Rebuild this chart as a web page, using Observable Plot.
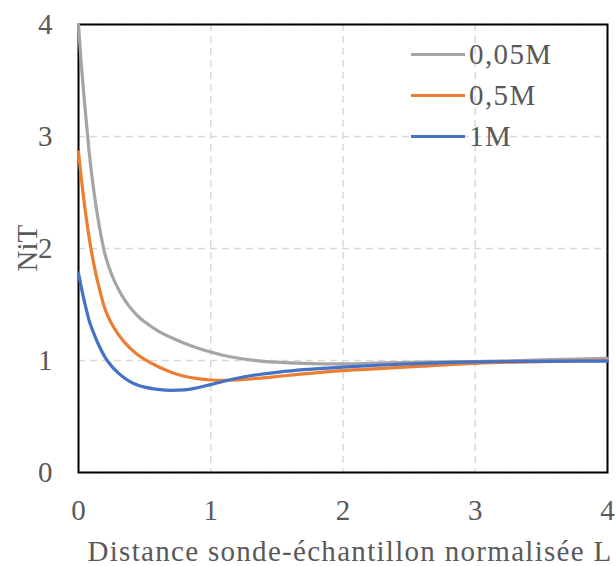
<!DOCTYPE html>
<html>
<head>
<meta charset="utf-8">
<script src="https://cdn.jsdelivr.net/npm/d3@7"></script>
<script src="https://cdn.jsdelivr.net/npm/@observablehq/plot@0.6"></script>
<style>
  body { margin: 0; background: #fff; }
  #wrap { position: relative; width: 616px; height: 566px; }
  .legend { position: absolute; left: 411px; top: 34px; font-family: "Liberation Serif", "Times New Roman", serif; font-size: 29px; color: #595959; letter-spacing: 1.4px; }
  .legend .row { height: 41px; display: flex; align-items: center; }
  .legend .sw { display: inline-block; width: 54px; height: 3.5px; margin-right: 4px; }
</style>
</head>
<body>
<div id="wrap"></div>
<script>
// ---- data ----
const seriesNames = ["0,05M", "0,5M", "1M"];
const seriesColors = ["#A5A5A5", "#ED7D31", "#4472C4"];
const xValues = [0, 0.02, 0.04, 0.06, 0.08, 0.1, 0.13, 0.16, 0.2, 0.25, 0.3, 0.35, 0.4, 0.45, 0.5, 0.6, 0.7, 0.8, 0.9, 1.0, 1.1, 1.2, 1.3, 1.4, 1.5, 1.7, 2.0, 2.3, 2.6, 3.0, 3.5, 4.0];
const y005 = [4.0, 3.66, 3.38, 3.12, 2.87, 2.66, 2.4, 2.18, 1.95, 1.77, 1.64, 1.54, 1.46, 1.395, 1.345, 1.265, 1.205, 1.155, 1.112, 1.076, 1.045, 1.022, 1.005, 0.993, 0.985, 0.975, 0.97, 0.978, 0.985, 0.99, 1.005, 1.02];
const y05 = [2.86, 2.64, 2.44, 2.26, 2.1, 1.96, 1.78, 1.63, 1.46, 1.33, 1.235, 1.16, 1.1, 1.05, 1.01, 0.947, 0.896, 0.86, 0.838, 0.826, 0.822, 0.826, 0.835, 0.845, 0.857, 0.88, 0.91, 0.93, 0.95, 0.975, 0.99, 1.0];
const y1 = [1.78, 1.66, 1.55, 1.45, 1.36, 1.29, 1.2, 1.12, 1.03, 0.95, 0.89, 0.842, 0.805, 0.78, 0.762, 0.742, 0.733, 0.737, 0.757, 0.785, 0.815, 0.842, 0.864, 0.88, 0.894, 0.918, 0.94, 0.96, 0.975, 0.988, 0.993, 0.994];
const xTicks = [0, 1, 2, 3, 4];
const yTicks = [0, 1, 2, 3, 4];
const xTitle = "Distance sonde-échantillon normalisée L";
const yTitle = "NiT";

// build table
const seriesValues = [y005, y05, y1];
const data = [];
seriesNames.forEach((name, i) => {
  xValues.forEach((x, j) => data.push({series: name, x, y: seriesValues[i][j]}));
});

const textColor = "#595959";
const plot = Plot.plot({
  width: 616,
  height: 566,
  marginLeft: 78,
  marginRight: 9,
  marginTop: 24,
  marginBottom: 94,
  style: {fontFamily: '"Liberation Serif", "Times New Roman", serif', fontSize: "29px", color: textColor, background: "white", overflow: "visible"},
  x: {domain: [0, 4]},
  y: {domain: [0, 4]},
  color: {domain: seriesNames, range: seriesColors},
  marks: [
    Plot.gridX(xTicks, {stroke: "#d9d9d9", strokeOpacity: 1, strokeWidth: 1.5, strokeDasharray: "7,5"}),
    Plot.gridY(yTicks, {stroke: "#d9d9d9", strokeOpacity: 1, strokeWidth: 1.5, strokeDasharray: "7,5"}),
    Plot.axisX(xTicks, {tickSize: 0, tickPadding: 27, label: null, fill: textColor, tickFormat: d => String(d)}),
    Plot.axisY(yTicks, {tickSize: 0, tickPadding: 26, label: null, fill: textColor, tickFormat: d => String(d)}),
    Plot.frame({stroke: "black", strokeWidth: 2}),
    Plot.line(data, {x: "x", y: "y", z: "series", stroke: "series", strokeWidth: 3.2, curve: "monotone-x"}),
    Plot.text([xTitle], {frameAnchor: "bottom", dx: 7, dy: 79, lineAnchor: "middle", fill: textColor, fontSize: 29}),
    Plot.text([yTitle], {frameAnchor: "left", dx: -51, dy: 23, rotate: -90, lineAnchor: "middle", fill: textColor, fontSize: 29})
  ]
});
plot.querySelectorAll("text").forEach(t => {
  if (t.textContent === xTitle) t.style.letterSpacing = "1.3px";
});

const wrap = document.getElementById("wrap");
wrap.appendChild(plot);

// legend
const legend = document.createElement("div");
legend.className = "legend";
seriesNames.forEach((name, i) => {
  const row = document.createElement("div");
  row.className = "row";
  const sw = document.createElement("span");
  sw.className = "sw";
  sw.style.background = seriesColors[i];
  const label = document.createElement("span");
  label.textContent = name;
  row.appendChild(sw);
  row.appendChild(label);
  legend.appendChild(row);
});
wrap.appendChild(legend);
</script>
</body>
</html>
